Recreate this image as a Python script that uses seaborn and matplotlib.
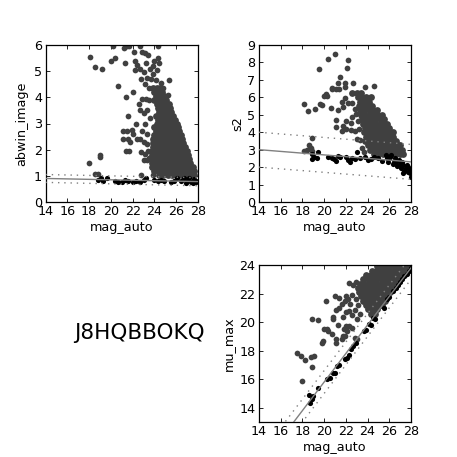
import matplotlib
matplotlib.use("Agg")
import pandas as pd
import seaborn as sns
import matplotlib.pyplot as plt

sns.set_style("ticks")
plt.rcParams['font.family'] = ['DejaVu Sans']
plt.rcParams['xtick.direction'] = 'in'
plt.rcParams['ytick.direction'] = 'in'
plt.rcParams['xtick.top'] = True
plt.rcParams['ytick.right'] = True
plt.rcParams['text.color'] = 'black'
plt.rcParams['axes.labelcolor'] = 'black'
plt.rcParams['xtick.labelcolor'] = 'black'
plt.rcParams['ytick.labelcolor'] = 'black'

mag_ticks = [14, 16, 18, 20, 22, 24, 26, 28]
name = "J8HQBBOKQ"

# value -> mag_auto columns for the dense part of each cloud
abwin_rows = {
    1.05: [24.4, 24.8, 25.2, 25.6, 26.0, 26.4, 26.8, 27.2, 27.6],
    1.2: [24.0, 24.4, 24.8, 25.2, 25.6, 26.0, 26.4, 26.8, 27.2, 27.6],
    1.35: [23.8, 24.2, 24.6, 25.0, 25.4, 25.8, 26.2, 26.6, 27.0, 27.4, 27.55],
    1.5: [23.8, 24.1, 24.5, 24.9, 25.3, 25.7, 26.1, 26.5, 26.9, 27.3],
    1.65: [23.7, 24.0, 24.4, 24.8, 25.2, 25.6, 26.0, 26.4, 26.8, 27.2],
    1.8: [23.8, 24.1, 24.5, 24.9, 25.3, 25.7, 26.1, 26.5, 26.9, 27.1],
    1.95: [23.8, 24.0, 24.4, 24.8, 25.2, 25.6, 26.0, 26.4, 26.8, 27.0],
    2.1: [23.9, 24.3, 24.7, 25.1, 25.5, 25.9, 26.3, 26.7, 26.85],
    2.25: [23.9, 24.2, 24.6, 25.0, 25.4, 25.8, 26.2, 26.6],
    2.4: [23.9, 24.3, 24.7, 25.1, 25.5, 25.9, 26.3, 26.55],
    2.55: [24.0, 24.4, 24.8, 25.2, 25.6, 26.0, 26.4],
    2.7: [24.1, 24.5, 24.9, 25.3, 25.7, 26.1, 26.3],
    2.85: [24.0, 24.4, 24.8, 25.2, 25.6, 26.0, 26.2],
    3.0: [24.2, 24.6, 25.0, 25.4, 25.8, 26.05],
    3.15: [24.3, 24.7, 25.1, 25.5, 25.85],
    3.3: [24.1, 24.5, 24.9, 25.3, 25.7],
    3.45: [24.4, 24.8, 25.2, 25.55],
    3.6: [24.3, 24.7, 25.1, 25.4],
    3.75: [24.2, 24.6, 25.0, 25.3],
    3.9: [24.0, 24.4, 24.8, 25.1],
    4.05: [24.1, 24.5, 24.85],
    4.2: [24.0, 24.4, 24.7],
    4.35: [23.9, 24.2, 24.5],
}
abwin_sparse = [
    (18.1, 5.55), (18.5, 5.15), (19.2, 5.1), (20.0, 5.4), (20.4, 5.5), (20.2, 5.95), (21.2, 5.9),
    (21.5, 5.95), (21.7, 5.95), (22.1, 5.75), (22.7, 5.95), (22.9, 5.75), (23.1, 5.7), (23.4, 5.6),
    (24.3, 5.95), (24.0, 5.4), (24.3, 5.5), (24.4, 5.3), (23.9, 5.2), (23.2, 5.3), (22.2, 5.4),
    (22.4, 5.25), (22.2, 5.05), (21.3, 5.3), (22.7, 5.1), (23.0, 4.95), (23.6, 5.1), (23.9, 4.9),
    (24.2, 5.05), (22.8, 4.7), (23.1, 4.5), (23.7, 4.7), (24.1, 4.65), (24.6, 4.55), (25.3, 4.65),
    (20.7, 4.45), (23.3, 4.75), (23.5, 4.35), (24.8, 4.35), (25.2, 4.1), (22.0, 4.2), (21.4, 4.0),
    (22.6, 3.75), (22.9, 3.95), (23.2, 3.95), (23.5, 3.9), (22.7, 3.5), (23.0, 3.4), (21.6, 3.3), (22.3, 3.0),
    (23.3, 3.5), (23.1, 3.0), (23.6, 3.2), (21.1, 2.7), (21.5, 2.7), (21.9, 2.75), (22.0, 2.6),
    (22.9, 2.7), (23.3, 2.6), (21.1, 2.4), (21.6, 2.4), (21.8, 2.3), (22.4, 2.4), (22.7, 2.4),
    (23.0, 2.3), (23.3, 2.2), (21.4, 1.95), (21.7, 1.95), (22.8, 1.9), (23.1, 1.85), (23.4, 1.95),
    (19.0, 1.8), (19.0, 1.72), (18.0, 1.5), (23.0, 1.6), (23.3, 1.6), (23.5, 1.7), (18.5, 1.07),
    (18.8, 1.07), (22.8, 1.05), (23.9, 1.05),
]
abwin_stars = [
    (18.8, 0.85), (19.1, 0.9), (19.3, 0.82), (19.6, 0.9), (20.4, 0.82), (20.7, 0.78), (21.0, 0.76),
    (21.3, 0.84), (21.6, 0.8), (22.0, 0.78), (22.3, 0.82), (22.7, 0.78), (23.0, 0.85), (23.2, 0.92),
    (24.0, 0.84), (24.3, 0.82), (24.6, 0.85), (24.9, 0.8), (25.5, 0.78), (25.8, 0.82), (26.1, 0.9),
    (26.4, 0.8), (26.7, 0.9), (27.0, 0.8), (27.2, 0.9), (27.4, 0.78), (27.6, 0.88), (27.8, 0.76),
    (28.0, 0.82), (26.9, 0.72), (27.5, 0.72),
]

s2_rows = {
    2.75: [24.6, 25.0, 25.4, 25.8, 26.2, 26.6, 27.0, 27.3],
    3.0: [24.2, 24.6, 25.0, 25.4, 25.8, 26.2, 26.6, 27.0, 27.2],
    3.25: [24.0, 24.4, 24.8, 25.2, 25.6, 26.0, 26.4, 26.8, 27.0],
    3.5: [23.8, 24.2, 24.6, 25.0, 25.4, 25.8, 26.2, 26.6],
    3.75: [23.9, 24.3, 24.7, 25.1, 25.5, 25.9, 26.3],
    4.0: [23.7, 24.1, 24.5, 24.9, 25.3, 25.7, 26.1, 26.3],
    4.25: [23.8, 24.2, 24.6, 25.0, 25.4, 25.8, 26.0],
    4.5: [23.6, 24.0, 24.4, 24.8, 25.2, 25.6, 25.8],
    4.75: [23.5, 23.9, 24.3, 24.7, 25.1, 25.5],
    5.0: [23.4, 23.8, 24.2, 24.6, 25.0, 25.35],
    5.25: [23.3, 23.7, 24.1, 24.5, 24.85],
    5.5: [23.2, 23.6, 24.0, 24.4],
    5.75: [23.3, 23.7, 24.1],
    6.0: [23.1, 23.5, 23.9, 24.3],
    6.25: [22.6, 23.0, 23.4],
}
s2_sparse = [
    (21.0, 8.5), (20.4, 8.2), (22.2, 8.15), (19.5, 7.65), (22.1, 7.7), (21.5, 7.15), (21.3, 6.85),
    (21.9, 6.85), (23.8, 6.6), (24.6, 6.65), (21.9, 6.6), (20.7, 6.55), (20.7, 6.45), (21.1, 6.45),
    (21.4, 6.5), (22.7, 6.8), (20.2, 6.2), (20.0, 6.1), (20.3, 6.05), (19.6, 5.6), (19.8, 5.55),
    (18.1, 5.6), (18.5, 5.2), (19.2, 5.35), (20.6, 5.4), (21.3, 5.3), (21.7, 5.45), (21.6, 5.75),
    (21.9, 5.95), (22.2, 5.7), (22.6, 5.65), (22.8, 5.35), (22.9, 5.05), (22.6, 4.85), (21.1, 4.7),
    (22.0, 4.65), (22.5, 4.55), (23.1, 4.65), (21.1, 4.3), (21.7, 4.35), (22.0, 4.2), (21.6, 4.05),
    (22.5, 4.1), (22.8, 4.05), (23.2, 4.2), (23.0, 3.6), (23.3, 3.55), (18.9, 3.65), (18.6, 3.25),
    (18.8, 3.1), (18.4, 3.0), (18.9, 2.95), (18.1, 2.9), (23.5, 3.1), (23.7, 2.85),
]
s2_stars = [
    (19.4, 2.85), (18.9, 2.75), (19.1, 2.6), (18.9, 2.45), (19.3, 2.55), (20.4, 2.6), (20.7, 2.55),
    (20.9, 2.45), (21.1, 2.35), (21.3, 2.65), (21.5, 2.6), (22.0, 2.6), (22.2, 2.4), (22.4, 2.3),
    (22.6, 2.55), (22.8, 2.45), (23.0, 2.85), (23.3, 2.5), (23.8, 2.6), (24.0, 2.4), (24.3, 2.45),
    (24.6, 2.6), (25.0, 2.5), (25.3, 2.35), (25.7, 2.7), (25.9, 2.3), (26.1, 2.6), (26.3, 2.15),
    (26.5, 2.5), (26.7, 2.05), (26.9, 2.4), (27.1, 1.95), (27.2, 2.3), (27.4, 1.8), (27.6, 2.1),
    (27.7, 1.7), (27.9, 1.9), (28.0, 1.45), (26.0, 2.5), (26.4, 2.3), (27.0, 2.2), (27.5, 1.95),
    (25.8, 2.55), (26.2, 2.7), (26.6, 2.3), (27.3, 2.1), (27.7, 2.0), (27.9, 1.65), (27.3, 1.65),
]

mu_rows = {
    20.6: [24.3, 24.7],
    20.9: [24.0, 24.4, 24.9],
    21.2: [23.9, 24.3, 24.7, 25.1, 25.3],
    21.5: [23.6, 24.0, 24.4, 24.8, 25.2, 25.6],
    21.8: [23.4, 23.8, 24.2, 24.6, 25.0, 25.4, 25.8],
    22.1: [23.2, 23.6, 24.0, 24.4, 24.8, 25.2, 25.6, 26.1],
    22.4: [23.1, 23.5, 23.9, 24.3, 24.7, 25.1, 25.5, 25.9, 26.3],
    22.7: [23.3, 23.7, 24.1, 24.5, 24.9, 25.3, 25.7, 26.1, 26.5, 26.7],
    23.0: [23.6, 24.0, 24.4, 24.8, 25.2, 25.6, 26.0, 26.4, 26.8, 27.0],
    23.3: [23.9, 24.3, 24.7, 25.1, 25.5, 25.9, 26.3, 26.7, 27.1, 27.35],
    23.6: [24.4, 24.8, 25.2, 25.6, 26.0, 26.4, 26.8, 27.2, 27.6],
    23.9: [24.9, 25.3, 25.7, 26.1, 26.5, 26.9, 27.3, 27.7, 27.95],
}
mu_sparse = [
    (17.5, 17.8), (17.9, 17.6), (18.2, 17.35), (18.8, 17.55), (19.1, 17.6), (18.9, 16.85), (18.0, 15.85),
    (18.9, 20.2), (19.4, 20.15), (19.8, 18.5), (19.9, 18.65), (20.3, 19.5), (20.0, 19.55), (20.4, 19.35),
    (20.7, 19.2), (20.2, 21.45), (20.8, 20.2), (20.8, 20.35), (21.1, 18.85), (21.1, 18.55), (21.6, 18.85),
    (21.7, 19.0), (21.9, 19.05), (21.3, 19.8), (21.8, 19.5), (22.0, 19.7), (22.1, 19.35), (22.3, 19.75),
    (22.6, 19.6), (21.0, 21.8), (21.4, 21.7), (21.1, 20.85), (21.4, 21.0), (21.6, 21.3), (21.9, 21.5),
    (22.0, 21.85), (22.2, 21.65), (22.4, 21.25), (21.7, 20.35), (22.0, 20.7), (22.3, 20.8), (22.6, 20.5),
    (22.8, 20.85), (23.0, 20.2), (22.3, 22.75), (22.7, 22.6), (22.9, 22.8), (22.6, 21.9), (22.9, 21.6),
    (23.1, 21.2), (23.3, 20.6), (22.8, 18.9), (23.0, 18.85),
]
mu_stars = [
    (18.7, 14.3), (18.6, 14.9), (18.9, 14.6), (19.0, 14.8), (19.4, 15.4), (20.3, 16.0), (20.5, 16.1),
    (20.8, 16.45), (21.0, 16.4), (21.2, 16.9), (21.4, 17.0), (21.9, 17.4), (22.1, 17.5), (22.3, 17.7),
    (22.5, 18.1), (22.7, 18.3), (22.9, 18.5), (23.7, 19.35), (23.9, 19.45), (24.1, 19.85), (24.3, 19.8),
    (24.5, 20.3), (24.7, 20.25), (25.5, 21.0), (25.8, 21.6), (26.0, 21.75), (26.3, 22.2), (26.6, 22.4),
    (26.8, 22.6), (27.0, 22.8), (27.2, 23.0), (27.4, 23.2), (27.6, 23.4), (27.8, 23.6), (28.0, 23.8),
]

# fit line ends at mag 14 and 28: solid, upper dotted, lower dotted
abwin_lines = [(0.9, 0.78), (1.05, 0.93), (0.75, 0.62)]
s2_lines = [(3.0, 2.3), (4.0, 3.3), (2.0, 1.3)]
mu_lines = [(9.8, 23.8), (10.6, 24.6), (9.0, 23.0)]


def draw_panel(rect, rows, sparse, stars, lines, ylabel, ylim, yticks, ypad):
    ax = fig.add_axes(rect)
    dense = pd.DataFrame([(x, y) for y, xs in rows.items() for x in xs], columns=["mag_auto", "value"])
    loose = pd.DataFrame(sparse, columns=["mag_auto", "value"])
    black = pd.DataFrame(stars, columns=["mag_auto", "value"])
    sns.scatterplot(data=dense, x="mag_auto", y="value", color="#404040", s=24, linewidth=0, ax=ax, zorder=2)
    sns.scatterplot(data=loose, x="mag_auto", y="value", color="#404040", s=17, linewidth=0, ax=ax, zorder=2)
    sns.scatterplot(data=black, x="mag_auto", y="value", color="black", s=14, linewidth=0, ax=ax, zorder=3)
    for i, (y0, y1) in enumerate(lines):
        ax.plot([14, 28], [y0, y1], color="#808080", lw=1,
                ls="-" if i == 0 else (0, (1, 3.5)), zorder=4)
    ax.set_xlim(14, 28)
    ax.set_ylim(*ylim)
    ax.set_xticks(mag_ticks)
    ax.set_yticks(yticks)
    ax.tick_params(labelsize=9.2, length=3, width=0.6, pad=2.5, color="black")
    ax.set_xlabel("mag_auto", fontsize=9.2, labelpad=1.5)
    ax.set_ylabel(ylabel, fontsize=9.2, labelpad=ypad)
    for sp in ax.spines.values():
        sp.set_linewidth(0.9)
        sp.set_color("black")
    return ax


fig = plt.figure(figsize=(4.57, 4.57), dpi=100)
draw_panel([45.5 / 457, 255 / 457, 152.5 / 457, 157 / 457], abwin_rows, abwin_sparse, abwin_stars,
           abwin_lines, "abwin_image", (0, 6), [0, 1, 2, 3, 4, 5, 6], 4)
draw_panel([259 / 457, 255 / 457, 152 / 457, 157 / 457], s2_rows, s2_sparse, s2_stars,
           s2_lines, "s2", (0, 9), list(range(10)), 2)
draw_panel([259 / 457, 35 / 457, 152 / 457, 157 / 457], mu_rows, mu_sparse, mu_stars,
           mu_lines, "mu_max", (13, 24), [14, 16, 18, 20, 22, 24], 3)
fig.text(139.5 / 457, 1 - 333 / 457, name, fontsize=15.5, ha="center", va="center")

fig.savefig("out.png", dpi=100)
plt.close()
